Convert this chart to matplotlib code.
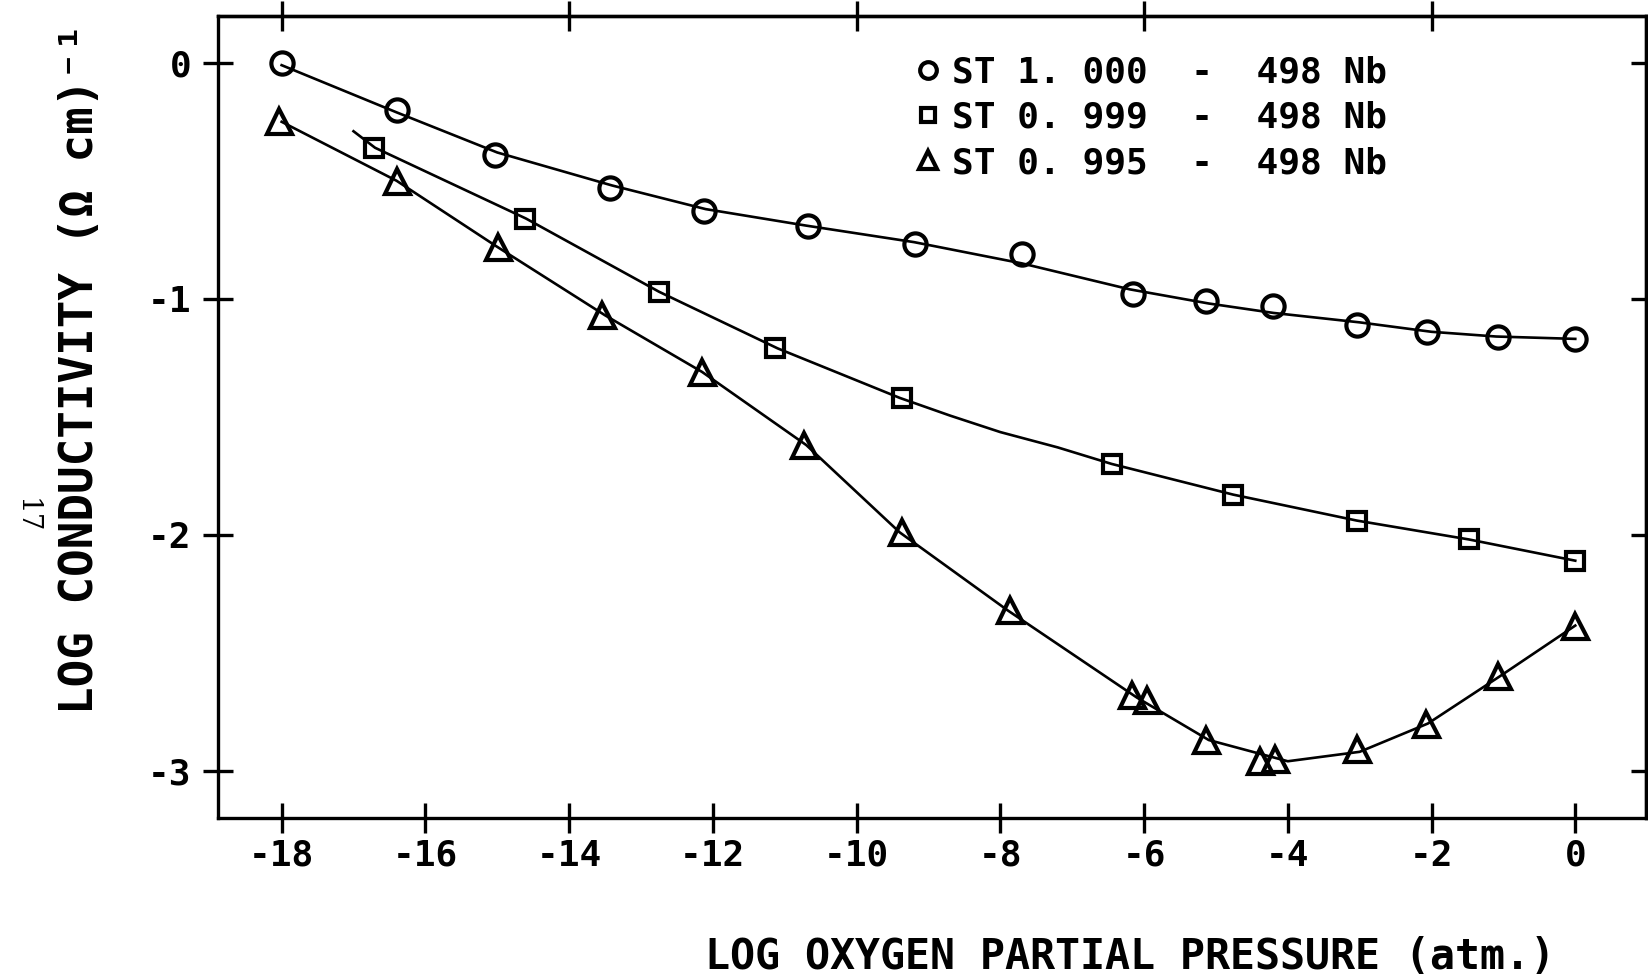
import numpy as np
import matplotlib
matplotlib.use("Agg")
import matplotlib.pyplot as plt

plt.rcParams['font.family'] = ['DejaVu Sans Mono', 'DejaVu Sans']
plt.rcParams['font.weight'] = 'bold'

# measured points (log pO2, log conductivity)
st1000_x = [-18.0, -16.4, -15.03, -13.43, -12.12, -10.68, -9.19, -7.7, -6.15, -5.14, -4.21, -3.04, -2.06, -1.08, 0.0]
st1000_y = [0.0, -0.20, -0.39, -0.53, -0.63, -0.69, -0.77, -0.81, -0.98, -1.01, -1.03, -1.11, -1.14, -1.16, -1.17]

st0999_x = [-16.71, -14.62, -12.75, -11.14, -9.37, -6.45, -4.76, -3.04, -1.48, 0.0]
st0999_y = [-0.36, -0.66, -0.97, -1.21, -1.42, -1.70, -1.83, -1.94, -2.02, -2.11]

st0995_x = [-18.03, -16.4, -14.99, -13.54, -12.15, -10.73, -9.37, -7.87, -6.17, -5.96, -5.14, -4.39, -4.18, -3.04, -2.08, -1.08, 0.0]
st0995_y = [-0.245, -0.50, -0.78, -1.07, -1.31, -1.62, -1.99, -2.32, -2.68, -2.70, -2.87, -2.96, -2.95, -2.91, -2.80, -2.60, -2.385]

# hand-drawn fit curves
fit1000_x = [-18.0, -16.4, -15.0, -13.4, -12.1, -10.7, -9.2, -7.7, -6.2, -5.1, -4.2, -3.0, -2.0, -1.1, 0.0]
fit1000_y = [-0.01, -0.21, -0.38, -0.52, -0.62, -0.69, -0.76, -0.85, -0.96, -1.02, -1.06, -1.10, -1.14, -1.16, -1.17]

fit0999_x = [-17.0, -16.7, -14.6, -12.75, -11.1, -9.4, -8.7, -8.0, -7.2, -6.45, -4.76, -3.04, -1.48, 0.0]
fit0999_y = [-0.29, -0.36, -0.66, -0.97, -1.21, -1.42, -1.495, -1.565, -1.63, -1.70, -1.83, -1.94, -2.02, -2.11]

fit0995_x = [-18.0, -16.4, -15.0, -13.5, -12.15, -10.7, -9.4, -7.9, -6.1, -5.1, -4.0, -3.0, -2.05, -1.05, 0.0]
fit0995_y = [-0.25, -0.50, -0.78, -1.07, -1.31, -1.62, -1.99, -2.32, -2.69, -2.87, -2.96, -2.92, -2.80, -2.60, -2.385]

labels = ["ST 1. 000  -  498 Nb", "ST 0. 999  -  498 Nb", "ST 0. 995  -  498 Nb"]

fig = plt.figure(figsize=(16.49, 9.76), dpi=100)
ax = fig.add_axes([0.132, 0.162, 0.866, 0.822])

lw = 1.9
mk = dict(color='black', markerfacecolor='none', markeredgecolor='black',
          markeredgewidth=3.0, linestyle='none')

ax.plot(fit1000_x, fit1000_y, color='black', lw=lw)
ax.plot(fit0999_x, fit0999_y, color='black', lw=lw)
ax.plot(fit0995_x, fit0995_y, color='black', lw=lw)

ax.plot(st1000_x, st1000_y, marker='o', markersize=16, label=labels[0], **mk)
ax.plot(st0999_x, st0999_y, marker='s', markersize=13, label=labels[1], **mk)
ax.plot(st0995_x, st0995_y, marker='^', markersize=18, label=labels[2], **mk)

ax.set_xlim(-18.89, 0.98)
ax.set_ylim(-3.2, 0.2)
ax.set_xticks(np.arange(-18, 1, 2))
ax.set_yticks([0, -1, -2, -3])
ax.set_xticklabels(["-18", "-16", "-14", "-12", "-10", "-8", "-6", "-4", "-2", "0"])
ax.set_yticklabels(["0", "-1", "-2", "-3"])

for s in ax.spines.values():
    s.set_linewidth(2.4)

ax.tick_params(axis='both', direction='inout', length=22, width=2.4, labelsize=26, pad=8)
ax.tick_params(axis='x', pad=4)

top = ax.secondary_xaxis('top')
top.set_xticks([-18, -14, -10, -6, -2])
top.set_xticklabels([])
top.tick_params(direction='inout', length=22, width=2.4)
top.spines['top'].set_linewidth(2.4)

right = ax.secondary_yaxis('right')
right.set_yticks([0, -1, -2, -3])
right.set_yticklabels([])
right.tick_params(direction='in', length=11, width=2.4)
right.spines['right'].set_linewidth(2.4)

leg = ax.legend(loc='upper left', bbox_to_anchor=(0.48, 0.968), frameon=False,
                fontsize=26, handlelength=0.6, handletextpad=0.35,
                labelspacing=0.31, markerscale=0.75, borderaxespad=0)

fig.text(0.685, 0.019, "LOG OXYGEN PARTIAL PRESSURE (atm.)", fontsize=30,
         ha='center', va='center')
fig.text(0.049, 0.622, "LOG CONDUCTIVITY (Ω cm)⁻¹", fontsize=33,
         rotation=90, ha='center', va='center')
fig.text(0.016, 0.472, "17", fontsize=20, rotation=-90, ha='center', va='center',
         family='DejaVu Serif', weight='normal')

fig.savefig("out.png", dpi=100)
